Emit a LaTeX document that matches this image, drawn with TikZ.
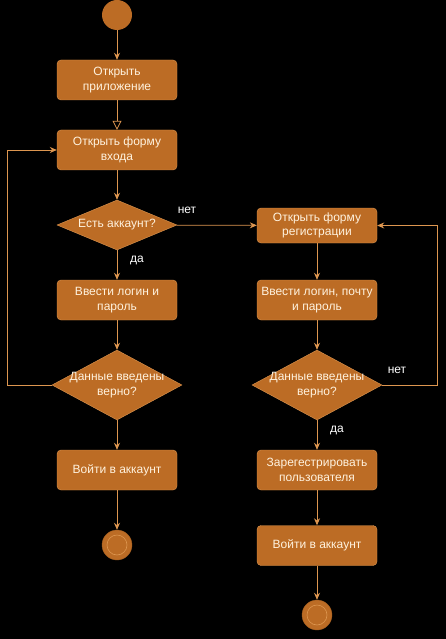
\documentclass[tikz,border=0pt]{standalone}
\usepackage{fontspec}
\setmainfont{Liberation Sans}
\usetikzlibrary{arrows.meta,shapes.geometric}
\definecolor{boxfill}{RGB}{188,108,37}
\definecolor{boxline}{RGB}{221,150,80}
\definecolor{boxtext}{RGB}{255,242,222}
\begin{document}
\begin{tikzpicture}[x=1pt, y=-1pt,
        every node/.style={font=\fontsize{12}{14.5}\selectfont},
        action/.style={draw=boxline, fill=boxfill, text=boxtext, rounded corners=4pt,
            minimum width=120pt, minimum height=40pt, align=center, inner sep=2pt},
        decision/.style={diamond, draw=boxline, fill=boxfill, inner sep=0pt,
            minimum width=120pt, minimum height=50pt},
        dtext/.style={text=boxtext, align=center},
        flow/.style={draw=boxline, line width=0.8pt, -{Stealth[length=7pt,width=6pt]}},
        startnode/.style={circle, fill=boxfill, minimum size=30pt, inner sep=0pt},
        endnode/.style={circle, fill=boxfill, draw=boxfill!85!black, minimum size=30pt, inner sep=0pt},
        lbl/.style={text=white}]
    \fill[black] (0,0) rectangle (446,639);

    % left column
    \node[startnode] (s) at (117,15) {};
    \node[action] (b1) at (117,80) {Открыть\\приложение};
    \node[action] (b2) at (117,150) {Открыть форму\\входа};
    \node[decision, label={[dtext]center:Есть аккаунт?}] (d1) at (117,225) {};
    \node[action] (b4) at (117,300) {Ввести логин и\\пароль};
    \node[decision, minimum width=130pt, minimum height=70pt,
        label={[dtext]center:{Данные введены\\верно?}}] (d2) at (117,385) {};
    \node[action] (b6) at (117,470) {Войти в аккаунт};
    \node[endnode] (e1) at (117,545) {};
    \draw[boxline, line width=0.6pt] (e1) circle (10);

    % right column
    \node[action, minimum height=35pt] (b3) at (317,225.5) {Открыть форму\\регистрации};
    \node[action] (b5) at (317,300) {Ввести логин, почту\\и пароль};
    \node[decision, minimum width=130pt, minimum height=70pt,
        label={[dtext]center:{Данные введены\\верно?}}] (d3) at (317,385) {};
    \node[action] (b7) at (317,470) {Зарегестрировать\\пользователя};
    \node[action] (b8) at (317,545.5) {Войти в аккаунт};
    \node[endnode] (e2) at (317,615) {};
    \draw[boxline, line width=0.6pt] (e2) circle (10);

    \coordinate (lp) at (7,385);
    \coordinate (rp) at (437,385);

    % connectors
    \draw[flow] (s) -- (b1);
    \draw[draw=boxline, line width=0.8pt, -{Triangle[open,length=9pt,width=9pt]}] (b1) -- (b2);
    \draw[flow] (b2) -- (d1);
    \draw[flow] (d1) -- (b4);
    \draw[flow] (d1) -- (b3);
    \draw[flow] (b4) -- (d2);
    \draw[flow] (d2.west) -- (lp) |- (b2.west);
    \draw[flow] (d2) -- (b6);
    \draw[flow] (b6) -- (e1);
    \draw[flow] (b3) -- (b5);
    \draw[flow] (b5) -- (d3);
    \draw[flow] (d3.east) -- (rp) |- (b3.east);
    \draw[flow] (d3) -- (b7);
    \draw[flow] (b7) -- (b8);
    \draw[flow] (b8) -- (e2);

    \node[lbl] (l1) at (187,210) {нет};
    \node[lbl] (l2) at (137,260) {да};
    \node[lbl] (l3) at (397,370) {нет};
    \node[lbl] (l4) at (337,430) {да};
\end{tikzpicture}
\end{document}
